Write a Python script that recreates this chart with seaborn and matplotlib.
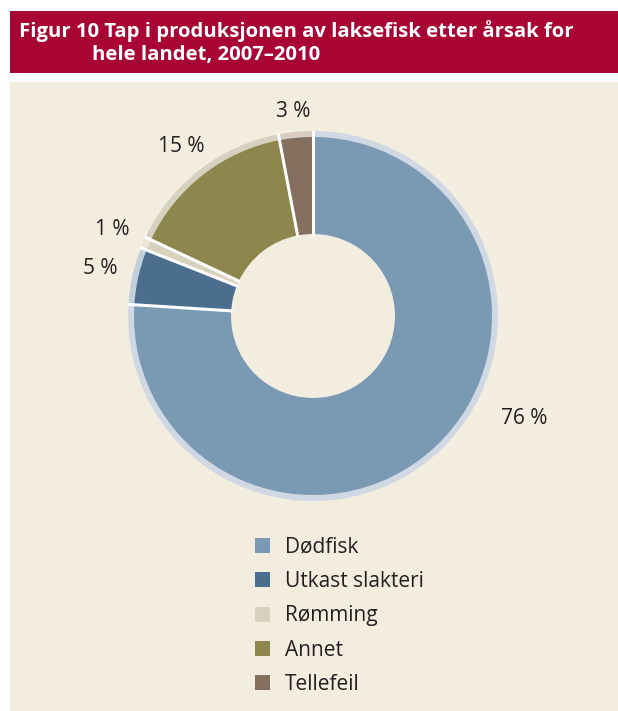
import matplotlib
matplotlib.use("Agg")
import matplotlib.pyplot as plt
import numpy as np
import seaborn as sns
from matplotlib.patches import Rectangle, Patch

sns.set_style("white")
plt.rcParams['font.family'] = ['Open Sans', 'DejaVu Sans']

# Data
categories = ["Dødfisk", "Utkast slakteri", "Rømming", "Annet", "Tellefeil"]
values = [76, 5, 1, 15, 3]
labels = ["76 %", "5 %", "1 %", "15 %", "3 %"]
colors = ["#7A9AB4", "#4B6E8F", "#D9D1BE", "#8E874D", "#85705F"]
rim_colors = ["#CFD8E3", "#C4CFDC", "#ECE7DA", "#D7D2BF", "#D8CCC4"]
title_line1 = "Figur 10 Tap i produksjonen av laksefisk etter årsak for"
title_line2 = "hele landet, 2007–2010"

# label placement (style)
label_dist = [1.27, 1.18, 1.18, 1.16, 1.11]

W, H = 618, 711
fig = plt.figure(figsize=(W / 100, H / 100), dpi=100)
fig.patch.set_facecolor("white")

# Title bar and panel
fig.patches.append(Rectangle((10 / W, 1 - 73 / H), 1, 62 / H, transform=fig.transFigure,
                             facecolor="#A80534", edgecolor="none", zorder=-5))
fig.patches.append(Rectangle((10 / W, 0), 1, 1 - 82 / H, transform=fig.transFigure,
                             facecolor="#F3EDE0", edgecolor="none", zorder=-5))
fig.text(19 / W, 1 - 31 / H, title_line1, color="white", fontsize=14.6, fontweight="bold",
         va="center", ha="left")
fig.text(92 / W, 1 - 55 / H, title_line2, color="white", fontsize=14.6, fontweight="bold",
         va="center", ha="left")

# Donut axes
cx, cy, R = 313, 316, 185
ax = fig.add_axes([(cx - R) / W, 1 - (cy + R) / H, 2 * R / W, 2 * R / H], zorder=2)
ax.set_facecolor("none")

r_main = 179 / R
r_in = 82 / R
# outer light rim (full depth, hidden under main ring)
ax.pie(values, colors=rim_colors, startangle=90, counterclock=False, radius=1.0,
       wedgeprops=dict(width=1.0 - r_in, linewidth=0))
# main ring
wedges, _ = ax.pie(values, colors=colors, startangle=90, counterclock=False, radius=r_main,
                   wedgeprops=dict(width=r_main - r_in, linewidth=0))
# white separators through ring and rim
for w in wedges:
    t = np.deg2rad(w.theta1)
    ax.plot([r_in * 0.98 * np.cos(t), 1.005 * np.cos(t)],
            [r_in * 0.98 * np.sin(t), 1.005 * np.sin(t)],
            color="white", linewidth=2.2, solid_capstyle="butt")
ax.set_xlim(-1, 1)
ax.set_ylim(-1, 1)
ax.set_aspect("equal")
ax.axis("off")

for i, (w, lab) in enumerate(zip(wedges, labels)):
    ang = np.deg2rad((w.theta1 + w.theta2) / 2)
    if i == 0:
        ang = np.deg2rad(-26)
    d = label_dist[i]
    ax.text(d * np.cos(ang), d * np.sin(ang), lab, ha="center", va="center",
            fontsize=15, color="#231F20", clip_on=False)

handles = [Patch(facecolor=c, edgecolor="none") for c in colors]
fig.legend(handles, categories, loc="upper left", bbox_to_anchor=(236 / W, 1 - 518 / H),
           frameon=False, fontsize=15, handlelength=0.75, handleheight=0.75,
           labelspacing=0.64, handletextpad=0.7, labelcolor="#231F20")

fig.savefig("out.png", dpi=100, facecolor=fig.get_facecolor())
